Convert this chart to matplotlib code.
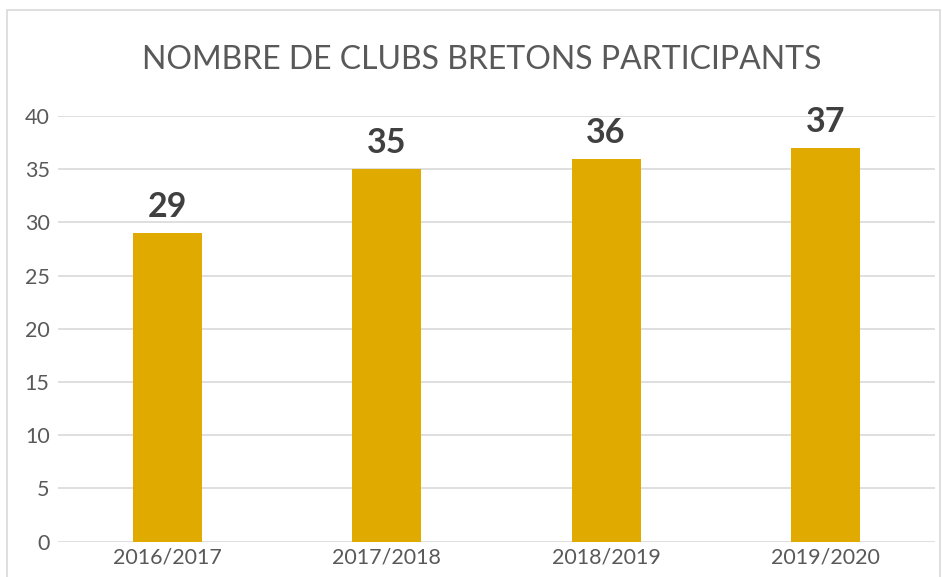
import matplotlib
matplotlib.use("Agg")
import matplotlib.pyplot as plt
from matplotlib.patches import Rectangle

categories = ["2016/2017", "2017/2018", "2018/2019", "2019/2020"]
values = [29, 35, 36, 37]
yticks = [0, 5, 10, 15, 20, 25, 30, 35, 40]
title = "NOMBRE DE CLUBS BRETONS PARTICIPANTS"

plt.rcParams['font.family'] = ['Lato', 'DejaVu Sans']

W, H = 942, 577
fig = plt.figure(figsize=(W / 100, H / 100), dpi=100)
ax = fig.add_axes([58 / W, 1 - 541.5 / H, (935 - 58) / W, (541.5 - 116) / H])

x = list(range(len(categories)))
bars = ax.bar(x, values, width=0.315, color="#E1AA00", zorder=3)
ax.set_xlim(-0.5, len(categories) - 0.5)
ax.set_ylim(0, 40)
ax.set_yticks(yticks)
ax.set_xticks(x)
ax.set_xticklabels(categories)
ax.tick_params(axis='both', length=0, labelsize=15.5, colors="#595959")
ax.tick_params(axis='y', pad=6)
ax.tick_params(axis='x', pad=4)
ax.grid(axis='y', color="#D9D9D9", linewidth=1.2, zorder=0)
for s in ax.spines.values():
    s.set_visible(False)

for xi, v in zip(x, values):
    ax.annotate(str(v), (xi, v), xytext=(0, 7), textcoords="offset points",
                ha="center", va="bottom", fontsize=24.5, fontweight="bold",
                color="#404040")

fig.text(481.5 / W, 1 - 60 / H, title, ha="center", va="center",
         fontsize=23, color="#595959")

fig.patches.append(Rectangle((7 / W, -0.01), (940 - 7) / W, 1 - 10 / H + 0.01,
                             transform=fig.transFigure, fill=False,
                             edgecolor="#D9D9D9", linewidth=1.2))

fig.savefig("out.png", dpi=100)
